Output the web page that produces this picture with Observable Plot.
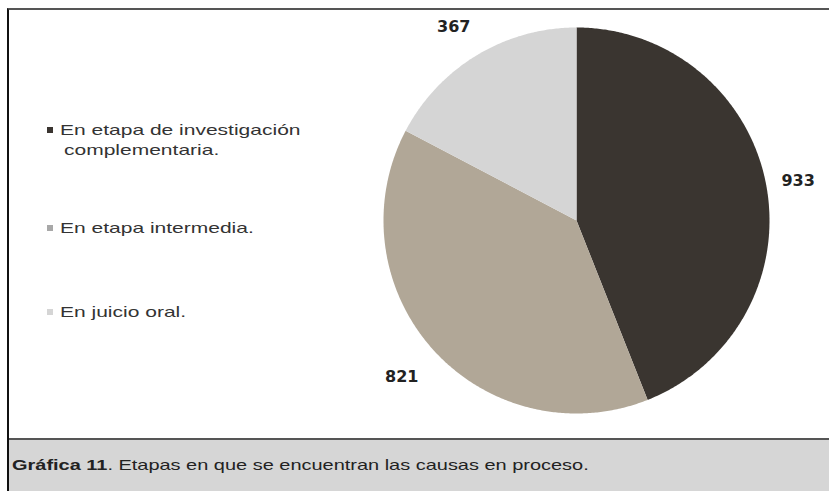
<!DOCTYPE html>
<html><head><meta charset="utf-8">
<script src="https://cdn.jsdelivr.net/npm/d3@7"></script>
<script src="https://cdn.jsdelivr.net/npm/@observablehq/plot@0.6"></script>
<style>
body{margin:0;background:#fff;font-family:"Liberation Sans",Arial,sans-serif;}
#wrap{position:relative;width:829px;height:491px;overflow:hidden;background:#fff;}
#frame{position:absolute;left:7px;top:8px;width:830px;height:490px;border-left:2px solid #111;border-top:2px solid #555;}
#chart{position:absolute;left:9px;top:10px;}
#caption{position:absolute;left:9px;top:438px;width:830px;height:60px;background:#d6d6d6;border-top:2px solid #555;}
#caption span.t{position:absolute;left:3px;top:16px;font-size:15px;color:#222;white-space:nowrap;transform:scaleX(1.33);transform-origin:left center;}
.leg{position:absolute;left:47px;font-size:15px;color:#333;line-height:20px;}
.leg .sq{position:absolute;left:0;top:7px;width:6px;height:6px;}
.leg .tx{position:absolute;left:13px;top:0;white-space:nowrap;transform:scaleX(1.4);transform-origin:left center;}
</style></head>
<body>
<div id="wrap">
  <div id="frame"></div>
  <div id="chart"></div>
  <div id="legend"></div>
  <div id="caption"><span class="t"><b>Gráfica 11</b>. Etapas en que se encuentran las causas en proceso.</span></div>
</div>
<script>
const categories = ["En etapa de investigación complementaria.", "En etapa intermedia.", "En juicio oral."];
const legendLines = [["En etapa de investigación", "complementaria."], ["En etapa intermedia."], ["En juicio oral."]];
const values = [933, 821, 367];
const colors = ["#3a3530", "#b1a797", "#d5d5d5"];
const legendColors = ["#3a3530", "#a8a8a8", "#d5d5d5"];

const arcs = d3.pie().sort(null)(values);
const points = [];
arcs.forEach((a, i) => {
  const cat = categories[i];
  points.push({cat, x: 0, y: 0});
  const n = Math.max(2, Math.ceil((a.endAngle - a.startAngle) / (Math.PI / 360)));
  for (let k = 0; k <= n; k++) {
    const t = a.startAngle + (a.endAngle - a.startAngle) * k / n;
    points.push({cat, x: Math.sin(t), y: Math.cos(t)});
  }
  points.push({cat, x: 0, y: 0});
});
const labelR = 1.19;
const labels = arcs.map((a, i) => {
  const m = (a.startAngle + a.endAngle) / 2;
  return {x: labelR * Math.sin(m), y: labelR * Math.cos(m), text: String(values[i])};
});

const R = 193, cx = 567, cy = 210;
const chart = Plot.plot({
  width: 820, height: 428, margin: 0,
  style: {background: "transparent"},
  x: {axis: null, domain: [-1, 1], range: [cx - R, cx + R]},
  y: {axis: null, domain: [-1, 1], range: [cy + R, cy - R]},
  color: {domain: categories, range: colors},
  marks: [
    Plot.line(points, {x: "x", y: "y", z: "cat", fill: "cat", stroke: "none", curve: "linear"}),
    Plot.text(labels, {x: "x", y: "y", text: "text", dx: -4, dy: 3, fontSize: 16, fontWeight: "bold", fontFamily: "DejaVu Sans", fill: "#222"})
  ]
});
document.getElementById("chart").appendChild(chart);

const legendTops = [120, 218, 302];
const leg = document.getElementById("legend");
legendLines.forEach((lines, i) => {
  lines.forEach((ln, j) => {
    const d = document.createElement("div");
    d.className = "leg";
    d.style.top = (legendTops[i] + j * 20) + "px";
    if (j === 0) {
      const s = document.createElement("div");
      s.className = "sq"; s.style.background = legendColors[i];
      d.appendChild(s);
    }
    const t = document.createElement("div");
    t.className = "tx"; t.textContent = ln;
    if (j > 0) t.style.left = "17px";
    d.appendChild(t);
    leg.appendChild(d);
  });
});
</script>
</body></html>
